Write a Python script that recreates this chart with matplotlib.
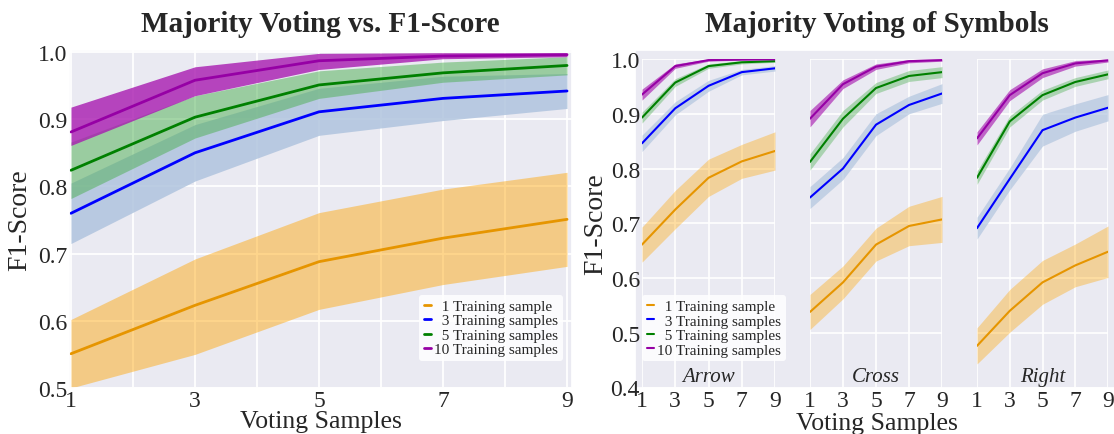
import numpy as np
import matplotlib
matplotlib.use('Agg')
import matplotlib.pyplot as plt
import seaborn as sns

sns.set_theme(style='darkgrid')
plt.rcParams['font.family'] = ['Liberation Serif', 'DejaVu Serif']

# voting samples on the x axis
votes = [1, 3, 5, 7, 9]
train_labels = ['  1 Training sample', '  3 Training samples', '  5 Training samples', '10 Training samples']

# left panel: mean F1 with lower / upper band, one row per number of training samples
all_mean = [[0.551, 0.623, 0.688, 0.723, 0.751],
            [0.760, 0.850, 0.911, 0.931, 0.942],
            [0.824, 0.903, 0.951, 0.969, 0.980],
            [0.881, 0.958, 0.987, 0.994, 0.996]]
all_low = [[0.500, 0.550, 0.617, 0.654, 0.681],
           [0.715, 0.808, 0.876, 0.898, 0.916],
           [0.782, 0.872, 0.931, 0.955, 0.966],
           [0.861, 0.935, 0.974, 0.990, 0.993]]
all_high = [[0.602, 0.692, 0.761, 0.796, 0.821],
            [0.805, 0.892, 0.946, 0.964, 0.968],
            [0.866, 0.935, 0.972, 0.985, 0.993],
            [0.918, 0.978, 0.998, 0.999, 0.999]]

# right panel: per symbol mean and half band width
symbols = ['Arrow', 'Cross', 'Right']
arrow_mean = [[0.661, 0.725, 0.783, 0.813, 0.832],
              [0.846, 0.910, 0.951, 0.976, 0.983],
              [0.893, 0.957, 0.987, 0.994, 0.996],
              [0.935, 0.987, 0.998, 0.999, 0.9995]]
arrow_spread = [[0.032, 0.035, 0.034, 0.031, 0.035],
                [0.015, 0.012, 0.010, 0.005, 0.005],
                [0.010, 0.007, 0.004, 0.003, 0.002],
                [0.010, 0.004, 0.002, 0.001, 0.001]]
cross_mean = [[0.538, 0.592, 0.661, 0.695, 0.707],
              [0.747, 0.800, 0.880, 0.916, 0.937],
              [0.812, 0.891, 0.947, 0.969, 0.976],
              [0.891, 0.954, 0.986, 0.996, 0.998]]
cross_spread = [[0.032, 0.030, 0.030, 0.036, 0.042],
                [0.020, 0.020, 0.020, 0.016, 0.018],
                [0.015, 0.015, 0.010, 0.010, 0.010],
                [0.015, 0.008, 0.005, 0.003, 0.002]]
right_mean = [[0.476, 0.540, 0.592, 0.623, 0.648],
              [0.691, 0.781, 0.870, 0.893, 0.911],
              [0.783, 0.886, 0.934, 0.958, 0.972],
              [0.855, 0.934, 0.974, 0.992, 0.9975]]
right_spread = [[0.033, 0.039, 0.040, 0.039, 0.047],
                [0.020, 0.020, 0.029, 0.025, 0.024],
                [0.012, 0.010, 0.009, 0.008, 0.008],
                [0.012, 0.010, 0.008, 0.005, 0.003]]

line_colors = ['#e69500', 'blue', 'green', '#9600a5']
fill_colors = ['orange', 'lightsteelblue', '#4caf50', '#a81ab0']
fill_alpha = [0.45, 0.85, 0.5, 0.8]

W, H = 1114, 435
fig = plt.figure(figsize=(W / 100, H / 100), dpi=100)

def px_rect(x0, y0, x1, y1):
    # pixel box -> figure fraction [left, bottom, width, height]
    return [x0 / W, 1 - y1 / H, (x1 - x0) / W, (y1 - y0) / H]

def style_legend(ax, loc, anchor):
    leg = ax.legend(loc=loc, bbox_to_anchor=anchor, borderaxespad=0, fontsize=11,
                    handlelength=0.5, handletextpad=0.2, labelspacing=0.05,
                    borderpad=0.3, framealpha=0.85, facecolor='white', edgecolor='none')
    return leg

# ---- left panel ----
ax = fig.add_axes(px_rect(69, 51, 572, 389))
for i in range(4):
    ax.fill_between(votes, all_low[i], all_high[i], color=fill_colors[i], alpha=fill_alpha[i], lw=0)
    ax.plot(votes, all_mean[i], color=line_colors[i], lw=2, label=train_labels[i])
ax.set_xlim(0.968, 9.08)
ax.set_ylim(0.5, 1.003)
ax.set_xticks(votes)
ax.set_xticks([2, 4, 6, 8], minor=True)
ax.set_yticks([0.5, 0.6, 0.7, 0.8, 0.9, 1.0])
ax.grid(which='both', color='white', lw=1.3)
ax.tick_params(which='both', labelsize=17, length=0, pad=1.5)
ax.set_title('Majority Voting vs. F1-Score', fontsize=21, fontweight='bold', pad=14)
ax.set_xlabel('Voting Samples', fontsize=18.5, labelpad=-1)
ax.set_ylabel('F1-Score', fontsize=20, labelpad=4)
style_legend(ax, 'lower right', (0.982, 0.08))

# ---- right panel: background box plus three small axes ----
outer = fig.add_axes(px_rect(635, 51, 1118, 389))
outer.set_xticks([])
outer.set_yticks([])
outer.grid(False)
outer.set_title('Majority Voting of Symbols', fontsize=21, fontweight='bold', pad=14)
outer.set_xlabel('Voting Samples', fontsize=18.5, labelpad=17)

sym_means = [arrow_mean, cross_mean, right_mean]
sym_spreads = [arrow_spread, cross_spread, right_spread]
sub_x = [(642, 775), (810, 942), (977, 1108)]
for k in range(3):
    sub = fig.add_axes(px_rect(sub_x[k][0], 60, sub_x[k][1], 388.5))
    sub.patch.set_alpha(0)
    m = np.array(sym_means[k])
    s = np.array(sym_spreads[k])
    for i in range(4):
        sub.fill_between(votes, m[i] - s[i], np.minimum(m[i] + s[i], 1.0),
                         color=fill_colors[i], alpha=fill_alpha[i] * 0.8, lw=0)
        sub.plot(votes, m[i], color=line_colors[i], lw=1.5, label=train_labels[i])
    sub.set_xlim(1, 9)
    sub.set_ylim(0.4, 1.0)
    sub.set_xticks(votes)
    sub.set_yticks([0.4, 0.5, 0.6, 0.7, 0.8, 0.9, 1.0])
    sub.grid(color='white', lw=1.2)
    sub.tick_params(labelsize=17, length=0, pad=1.5)
    for sp in sub.spines.values():
        sp.set_visible(False)
    sub.text(0.5, 0.005, symbols[k], transform=sub.transAxes, ha='center', va='bottom',
             fontsize=15, fontstyle='italic')
    if k == 0:
        sub.set_ylabel('F1-Score', fontsize=20, labelpad=2)
        style_legend(sub, 'lower left', (0.0, 0.08))
    else:
        sub.set_yticklabels([])

fig.savefig('out.png', dpi=100)
